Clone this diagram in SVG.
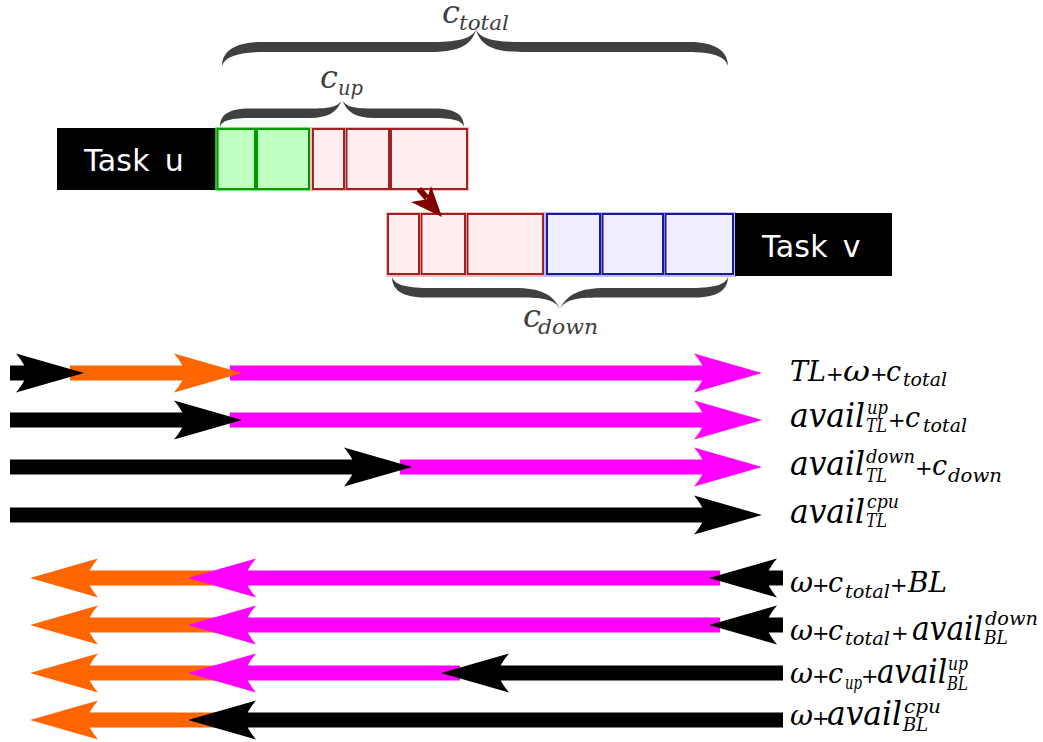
<svg xmlns="http://www.w3.org/2000/svg" width="1043" height="742" viewBox="0 0 1043 742">
<style>
.task{fill:#000}
.tt{font-family:"DejaVu Sans",sans-serif;font-size:30px;fill:#fff;letter-spacing:0.3px;word-spacing:5px}
.gin{fill:#bfffbf;stroke:#009a00;stroke-width:2}
.gout{fill:#bfffbf;stroke:#33ee33;stroke-width:1.5}
.rin{fill:#ffeeee;stroke:#a02222;stroke-width:2}
.rout{fill:#ffeeee;stroke:#ffbbbb;stroke-width:2}
.bin{fill:#eeeeff;stroke:#1a1a99;stroke-width:2}
.bout{fill:#eeeeff;stroke:#bbbbff;stroke-width:2}
.brace{fill:#404040}
.bl{font-family:"DejaVu Serif",serif;font-style:italic;fill:#404040}
.lb{font-family:"DejaVu Serif",serif;font-style:italic;fill:#000;font-size:27px}
.av{font-size:34px}
.sc{font-size:19px}
.pl{font-size:21px;font-style:normal}
.k{stroke:#000;stroke-width:15;fill:none}
.o{stroke:#ff6600;stroke-width:15;fill:none}
.m{stroke:#ff00ff;stroke-width:15;fill:none}
</style>
<defs>
<marker id="hk" viewBox="0 -20 70 40" markerWidth="70" markerHeight="40" refX="13" refY="0" orient="auto" markerUnits="userSpaceOnUse"><path d="M68,0 L0,-19.5 Q9,-9 11,0 Q9,9 0,19.5 Z" fill="#000"/></marker>
<marker id="ho" viewBox="0 -20 70 40" markerWidth="70" markerHeight="40" refX="13" refY="0" orient="auto" markerUnits="userSpaceOnUse"><path d="M68,0 L0,-19.5 Q9,-9 11,0 Q9,9 0,19.5 Z" fill="#ff6600"/></marker>
<marker id="hm" viewBox="0 -20 70 40" markerWidth="70" markerHeight="40" refX="13" refY="0" orient="auto" markerUnits="userSpaceOnUse"><path d="M68,0 L0,-19.5 Q9,-9 11,0 Q9,9 0,19.5 Z" fill="#ff00ff"/></marker>
</defs>
<rect width="1043" height="742" fill="#fff"/>

<g id="task-u">
<rect class="task" x="57" y="128" width="159" height="62"/>
<text class="tt" x="84" y="171">Task u</text>
</g>
<g id="compute-u">
<rect class="gout" x="216" y="128" width="94" height="62"/>
<rect class="gin" x="217.5" y="129" width="37.5" height="60"/>
<rect class="gin" x="257" y="129" width="52" height="60"/>
</g>
<g id="upload-u">
<rect class="rout" x="311" y="128" width="157" height="62"/>
<rect class="rin" x="313" y="129" width="31" height="60"/>
<rect class="rin" x="346.5" y="129" width="42.5" height="60"/>
<rect class="rin" x="391" y="129" width="76" height="60"/>
</g>
<g id="download-v">
<rect class="rout" x="387" y="213" width="158" height="63"/>
<rect class="rin" x="388" y="214" width="31" height="60"/>
<rect class="rin" x="421.5" y="214" width="43.5" height="60"/>
<rect class="rin" x="467.5" y="214" width="75.5" height="60"/>
</g>
<g id="compute-v">
<rect class="bout" x="545" y="213" width="190" height="63"/>
<rect class="bin" x="547" y="214" width="53" height="60"/>
<rect class="bin" x="602.5" y="214" width="60.5" height="60"/>
<rect class="bin" x="665.5" y="214" width="67.5" height="60"/>
</g>
<g id="task-v">
<rect class="task" x="735" y="213" width="157" height="63"/>
<text class="tt" x="762" y="257">Task v</text>
</g>

<g id="brace-total">
<path class="brace" d="M222,66 C222,51 235,42 262,42 L430,42 C455,42 470,40 476,30 C471,46 458,52 430,52 L265,52 C240,52 225,56 222,66 Z"/>
<path class="brace" d="M728,66 C728,51 715,42 690,42 L522,42 C497,42 482,40 476,30 C481,46 494,52 522,52 L688,52 C712,52 725,56 728,66 Z"/>
<text class="bl" x="442" y="23" font-size="32">c</text>
<text class="bl" x="459" y="30" font-size="21" textLength="50" lengthAdjust="spacingAndGlyphs">total</text>
</g>
<g id="brace-up">
<path class="brace" d="M220,127 C220,115 228,108.5 250,108.5 L310,108.5 C330,108.5 339,107 342,99 C338,112 328,118 310,118 L252,118 C232,118 222,120 220,127 Z"/>
<path class="brace" d="M464,127 C464,115 456,108.5 434,108.5 L374,108.5 C354,108.5 345,107 342,99 C346,112 356,118 374,118 L432,118 C452,118 462,120 464,127 Z"/>
<text class="bl" x="320" y="88" font-size="32">c</text>
<text class="bl" x="338" y="95" font-size="21" textLength="25" lengthAdjust="spacingAndGlyphs">up</text>
</g>
<g id="brace-down">
<path class="brace" d="M392,277 C392,288 400,297.5 425,297.5 L520,297.5 C545,297.5 555,300 560,309 C553,294 540,288 515,288 L428,288 C405,288 394,284 392,277 Z"/>
<path class="brace" d="M728,277 C728,288 720,297.5 695,297.5 L600,297.5 C575,297.5 565,300 560,309 C567,294 580,288 605,288 L692,288 C715,288 726,284 728,277 Z"/>
<text class="bl" x="523" y="327" font-size="32">c</text>
<text class="bl" x="538" y="334" font-size="21" textLength="60" lengthAdjust="spacingAndGlyphs">down</text>
</g>

<g id="connectors">
<g id="transfer">
<line x1="419" y1="189" x2="427" y2="198" stroke="#800000" stroke-width="6"/>
<path d="M442,217 L411,202 Q424,200 427,199 Q428,196 431,186 Z" fill="#800000"/>
</g>
<g id="row1">
<line class="m" x1="230" y1="373" x2="707" y2="373" marker-end="url(#hm)"/>
<line class="o" x1="70" y1="373" x2="187" y2="373" marker-end="url(#ho)"/>
<line class="k" x1="10" y1="373" x2="29" y2="373" marker-end="url(#hk)"/>
</g>
<g id="row2">
<line class="m" x1="230" y1="420" x2="707" y2="420" marker-end="url(#hm)"/>
<line class="k" x1="10" y1="420" x2="187" y2="420" marker-end="url(#hk)"/>
</g>
<g id="row3">
<line class="m" x1="400" y1="467" x2="707" y2="467" marker-end="url(#hm)"/>
<line class="k" x1="10" y1="467" x2="357" y2="467" marker-end="url(#hk)"/>
</g>
<g id="row4">
<line class="k" x1="10" y1="515" x2="707" y2="515" marker-end="url(#hk)"/>
</g>
<g id="row5">
<line class="o" x1="240" y1="578" x2="85" y2="578" marker-end="url(#ho)"/>
<line class="m" x1="720" y1="578" x2="243" y2="578" marker-end="url(#hm)"/>
<line class="k" x1="783" y1="578" x2="764" y2="578" marker-end="url(#hk)"/>
</g>
<g id="row6">
<line class="o" x1="240" y1="625" x2="85" y2="625" marker-end="url(#ho)"/>
<line class="m" x1="720" y1="625" x2="243" y2="625" marker-end="url(#hm)"/>
<line class="k" x1="783" y1="625" x2="764" y2="625" marker-end="url(#hk)"/>
</g>
<g id="row7">
<line class="o" x1="240" y1="673" x2="85" y2="673" marker-end="url(#ho)"/>
<line class="m" x1="460" y1="673" x2="243" y2="673" marker-end="url(#hm)"/>
<line class="k" x1="783" y1="673" x2="496" y2="673" marker-end="url(#hk)"/>
</g>
<g id="row8">
<line class="o" x1="240" y1="720" x2="85" y2="720" marker-end="url(#ho)"/>
<line class="k" x1="783" y1="720" x2="243" y2="720" marker-end="url(#hk)"/>
</g>
</g>

<g id="labels">
<text class="lb" y="381"><tspan x="790" textLength="36" lengthAdjust="spacingAndGlyphs">TL</tspan><tspan class="pl" x="826">+</tspan><tspan x="843" textLength="27" lengthAdjust="spacingAndGlyphs">ω</tspan><tspan class="pl" x="870">+</tspan><tspan x="886">c</tspan><tspan class="sc" x="903" y="386" textLength="44" lengthAdjust="spacingAndGlyphs">total</tspan></text>
<text class="lb" y="427"><tspan class="av" x="790" textLength="75" lengthAdjust="spacingAndGlyphs">avail</tspan><tspan class="sc" x="867" y="414" textLength="21" lengthAdjust="spacingAndGlyphs">up</tspan><tspan class="sc" x="866" y="432" textLength="21" lengthAdjust="spacingAndGlyphs">TL</tspan><tspan class="pl" x="888" y="427">+</tspan><tspan x="905">c</tspan><tspan class="sc" x="923" y="432" textLength="44" lengthAdjust="spacingAndGlyphs">total</tspan></text>
<text class="lb" y="475"><tspan class="av" x="790" textLength="75" lengthAdjust="spacingAndGlyphs">avail</tspan><tspan class="sc" x="866" y="463" textLength="49" lengthAdjust="spacingAndGlyphs">down</tspan><tspan class="sc" x="866" y="482" textLength="21" lengthAdjust="spacingAndGlyphs">TL</tspan><tspan class="pl" x="915" y="475">+</tspan><tspan x="932">c</tspan><tspan class="sc" x="948" y="482" textLength="54" lengthAdjust="spacingAndGlyphs">down</tspan></text>
<text class="lb" y="523"><tspan class="av" x="790" textLength="75" lengthAdjust="spacingAndGlyphs">avail</tspan><tspan class="sc" x="867" y="508" textLength="32" lengthAdjust="spacingAndGlyphs">cpu</tspan><tspan class="sc" x="866" y="527" textLength="21" lengthAdjust="spacingAndGlyphs">TL</tspan></text>
<text class="lb" y="592"><tspan x="790" textLength="23" lengthAdjust="spacingAndGlyphs">ω</tspan><tspan class="pl" x="812">+</tspan><tspan x="828">c</tspan><tspan class="sc" x="845" y="598" textLength="45" lengthAdjust="spacingAndGlyphs">total</tspan><tspan class="pl" x="890" y="592">+</tspan><tspan x="908" textLength="39" lengthAdjust="spacingAndGlyphs">BL</tspan></text>
<text class="lb" y="640"><tspan x="790" textLength="23" lengthAdjust="spacingAndGlyphs">ω</tspan><tspan class="pl" x="812">+</tspan><tspan x="828">c</tspan><tspan class="sc" x="845" y="645" textLength="45" lengthAdjust="spacingAndGlyphs">total</tspan><tspan class="pl" x="891" y="640">+</tspan><tspan class="av" x="912" textLength="71" lengthAdjust="spacingAndGlyphs">avail</tspan><tspan class="sc" x="985" y="625" textLength="53" lengthAdjust="spacingAndGlyphs">down</tspan><tspan class="sc" x="984" y="644" textLength="24" lengthAdjust="spacingAndGlyphs">BL</tspan></text>
<text class="lb" y="683"><tspan x="790" textLength="23" lengthAdjust="spacingAndGlyphs">ω</tspan><tspan class="pl" x="812">+</tspan><tspan x="828">c</tspan><tspan class="sc" x="845" y="689" textLength="17" lengthAdjust="spacingAndGlyphs">up</tspan><tspan class="pl" x="861" y="683">+</tspan><tspan class="av" x="877" textLength="70" lengthAdjust="spacingAndGlyphs">avail</tspan><tspan class="sc" x="948" y="670" textLength="20" lengthAdjust="spacingAndGlyphs">up</tspan><tspan class="sc" x="947" y="690" textLength="21" lengthAdjust="spacingAndGlyphs">BL</tspan></text>
<text class="lb" y="725"><tspan x="790" textLength="23" lengthAdjust="spacingAndGlyphs">ω</tspan><tspan class="pl" x="812">+</tspan><tspan class="av" x="827" textLength="75" lengthAdjust="spacingAndGlyphs">avail</tspan><tspan class="sc" x="904" y="713" textLength="37" lengthAdjust="spacingAndGlyphs">cpu</tspan><tspan class="sc" x="903" y="731" textLength="25" lengthAdjust="spacingAndGlyphs">BL</tspan></text>
</g>
</svg>
